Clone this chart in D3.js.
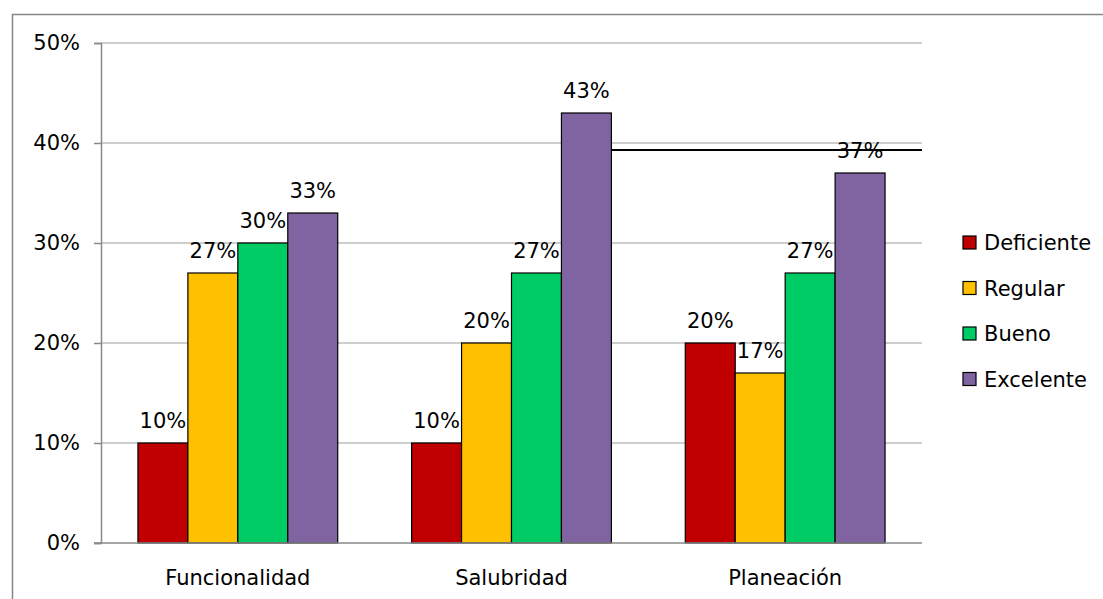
<!DOCTYPE html>
<html>
<head>
  <meta charset="utf-8">
  <style>
    body { margin: 0; background: white; font-family: "DejaVu Sans", Verdana, sans-serif; }
    svg { display: block; }
  </style>
</head>
<body>
  <svg id="chart"></svg>
  <script src="https://cdn.jsdelivr.net/npm/d3@7/dist/d3.min.js"></script>
  <script>
    // data
    var categories = ["Funcionalidad", "Salubridad", "Planeación"];
    var seriesNames = ["Deficiente", "Regular", "Bueno", "Excelente"];
    var deficiente = [0.10, 0.10, 0.20];
    var regular = [0.27, 0.20, 0.17];
    var bueno = [0.30, 0.27, 0.27];
    var excelente = [0.33, 0.43, 0.37];
    var yTicks = [0, 0.1, 0.2, 0.3, 0.4, 0.5];
    // stray black line in the original, at about 39.3%
    var strayLineValue = 0.393;

    var seriesValues = [deficiente, regular, bueno, excelente];
    var colors = ["#C00000", "#FFC000", "#00CC66", "#8064A2"];

    var width = 1103, height = 599;
    var plot = { left: 101, right: 922, top: 43, bottom: 543 };
    var fontSize = "21px";

    var svg = d3.select("#chart").attr("width", width).attr("height", height);

    // outer frame (only left and top edges are inside the picture)
    svg.append("rect")
      .attr("x", 12.5).attr("y", 14.5)
      .attr("width", width).attr("height", height)
      .attr("fill", "none")
      .attr("stroke", "#868686")
      .attr("stroke-width", 1.5);

    var x0 = d3.scaleBand()
      .domain(categories)
      .range([plot.left, plot.right])
      .paddingInner(0.27)
      .paddingOuter(0.135);

    var x1 = d3.scaleBand()
      .domain(seriesNames)
      .range([0, x0.bandwidth()]);

    var y = d3.scaleLinear()
      .domain([0, 0.5])
      .range([plot.bottom, plot.top]);

    // grid lines
    svg.append("g")
      .selectAll("line")
      .data(yTicks.slice(1))
      .join("line")
      .attr("x1", plot.left).attr("x2", plot.right)
      .attr("y1", d => y(d)).attr("y2", d => y(d))
      .attr("stroke", "#BEBEBE")
      .attr("stroke-width", 1.5);

    // y axis
    var yAxis = svg.append("g")
      .attr("transform", "translate(" + plot.left + ",0)")
      .call(d3.axisLeft(y).tickValues(yTicks).tickSize(7).tickPadding(14)
        .tickFormat(d3.format(".0%")));
    yAxis.select(".domain").attr("stroke", "#898989").attr("stroke-width", 1.5);
    yAxis.selectAll(".tick line").attr("stroke", "#898989").attr("stroke-width", 1.5);
    yAxis.selectAll(".tick text")
      .attr("fill", "#000")
      .style("font-size", fontSize)
      .style("font-family", "DejaVu Sans, Verdana, sans-serif");

    // bars
    var data = [];
    categories.forEach(function(c, i) {
      seriesNames.forEach(function(s, j) {
        data.push({ category: c, series: s, value: seriesValues[j][i], color: colors[j] });
      });
    });

    var bars = svg.append("g");
    bars.selectAll("rect")
      .data(data)
      .join("rect")
      .attr("x", d => x0(d.category) + x1(d.series))
      .attr("y", d => y(d.value))
      .attr("width", x1.bandwidth())
      .attr("height", d => y(0) - y(d.value))
      .attr("fill", d => d.color)
      .attr("stroke", "#000")
      .attr("stroke-width", 1.2);

    // x axis baseline
    svg.append("line")
      .attr("x1", plot.left - 7).attr("x2", plot.right)
      .attr("y1", y(0)).attr("y2", y(0))
      .attr("stroke", "#898989")
      .attr("stroke-width", 1.5);

    // value labels
    svg.append("g")
      .selectAll("text")
      .data(data)
      .join("text")
      .attr("x", d => x0(d.category) + x1(d.series) + x1.bandwidth() / 2)
      .attr("y", d => y(d.value) - 15)
      .attr("text-anchor", "middle")
      .style("font-size", fontSize)
      .text(d => d3.format(".0%")(d.value));

    // category labels
    svg.append("g")
      .selectAll("text")
      .data(categories)
      .join("text")
      .attr("x", d => x0(d) + x0.bandwidth() / 2)
      .attr("y", y(0) + 42)
      .attr("text-anchor", "middle")
      .style("font-size", fontSize)
      .text(d => d);

    // stray line from the top Salubridad bar to the right edge of the plot
    svg.append("line")
      .attr("x1", x0("Salubridad") + x1("Excelente") + x1.bandwidth())
      .attr("x2", plot.right)
      .attr("y1", y(strayLineValue)).attr("y2", y(strayLineValue))
      .attr("stroke", "#000")
      .attr("stroke-width", 2);

    // legend
    var legend = svg.append("g").attr("transform", "translate(963,236)");
    var rows = legend.selectAll("g")
      .data(seriesNames)
      .join("g")
      .attr("transform", (d, i) => "translate(0," + (i * 45.5) + ")");
    rows.append("rect")
      .attr("width", 13).attr("height", 13)
      .attr("fill", (d, i) => colors[i])
      .attr("stroke", "#000")
      .attr("stroke-width", 1.2);
    rows.append("text")
      .attr("x", 21)
      .attr("y", 7)
      .attr("dy", "0.35em")
      .style("font-size", fontSize)
      .text(d => d);
  </script>
</body>
</html>
